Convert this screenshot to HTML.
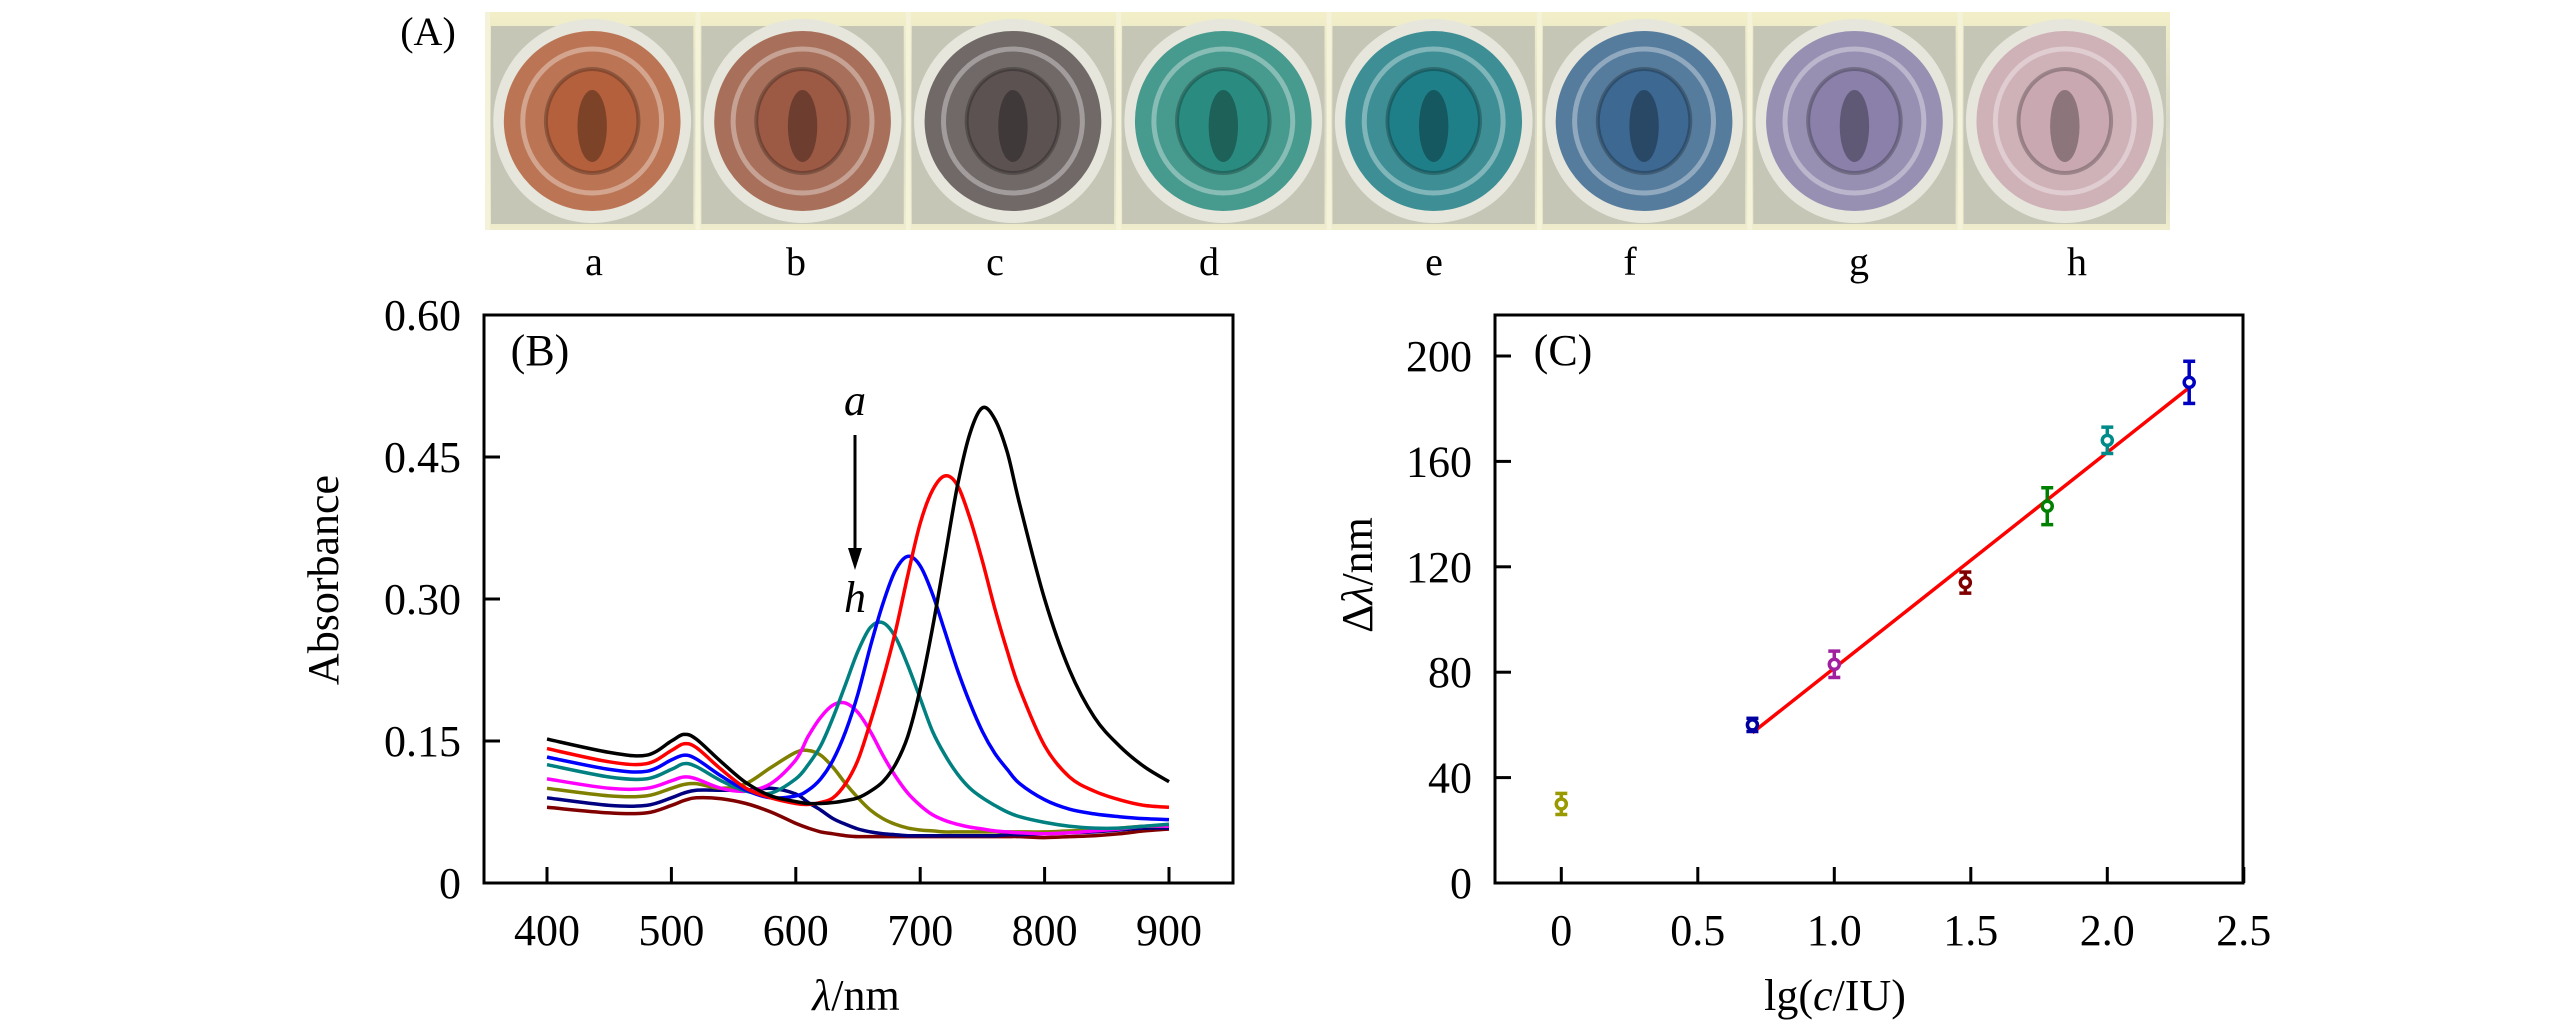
<!DOCTYPE html>
<html><head><meta charset="utf-8">
<style>
html,body{margin:0;padding:0;background:#fff;}
body{width:2567px;height:1024px;overflow:hidden;}
svg{display:block;}
text{font-family:"Liberation Serif",serif;fill:#000;}
</style></head>
<body>
<svg id="fig" width="2567" height="1024" viewBox="0 0 2567 1024">
<defs>
<linearGradient id="stripbg" x1="0" y1="0" x2="0" y2="1">
<stop offset="0" stop-color="#f2efc8"/><stop offset="0.5" stop-color="#d8d8c8"/><stop offset="1" stop-color="#eeeccc"/>
</linearGradient>
</defs>
<g id="panelA"></g>
<g id="panelB"></g>
<g id="panelC"></g>
</svg>
<script>
// ---------- Panel A data ----------
const wellLabels = ['a','b','c','d','e','f','g','h'];
const wellColors = ['#b4603c','#9c5a44','#5c5252','#2a8c80','#1f7f88','#3c6892','#8a80aa','#caa8b2'];

// ---------- Panel B data ----------
const wavelengths = [400,450,480,500,510,520,540,560,580,600,610,620,630,640,650,660,670,680,690,700,710,720,730,740,750,760,770,780,800,820,840,860,880,900];
const seriesA = [.152,.138,.135,.150,.157,.152,.128,.106,.092,.086,.084,.084,.085,.087,.090,.097,.107,.125,.155,.205,.270,.345,.420,.475,.502,.490,.455,.400,.300,.225,.175,.145,.123,.107];
const seriesB = [.142,.128,.126,.140,.147,.143,.120,.100,.090,.084,.083,.085,.090,.105,.130,.170,.215,.265,.325,.380,.415,.430,.420,.385,.340,.290,.245,.205,.145,.112,.097,.088,.082,.080];
const seriesC = [.133,.120,.118,.130,.135,.131,.113,.098,.090,.092,.098,.110,.130,.160,.200,.250,.295,.330,.345,.335,.305,.265,.225,.190,.160,.137,.120,.105,.088,.078,.073,.070,.068,.067];
const seriesD = [.125,.112,.110,.120,.126,.123,.108,.097,.095,.110,.125,.145,.175,.210,.245,.270,.275,.260,.230,.195,.160,.135,.115,.100,.090,.082,.075,.070,.064,.060,.058,.058,.060,.062];
const seriesE = [.110,.100,.100,.108,.112,.110,.100,.097,.105,.130,.155,.175,.188,.190,.180,.160,.135,.113,.095,.082,.072,.066,.062,.059,.057,.055,.054,.053,.052,.053,.055,.057,.060,.060];
const seriesF = [.100,.092,.092,.100,.104,.105,.100,.105,.122,.138,.140,.135,.122,.105,.090,.077,.068,.062,.058,.056,.055,.054,.054,.054,.054,.054,.054,.054,.054,.055,.056,.058,.060,.060];
const seriesG = [.090,.082,.082,.090,.095,.098,.098,.098,.100,.094,.085,.077,.068,.062,.057,.054,.052,.051,.050,.050,.050,.050,.050,.050,.050,.050,.051,.051,.052,.053,.054,.056,.058,.058];
const seriesH = [.080,.074,.074,.082,.087,.090,.089,.084,.075,.063,.058,.054,.052,.050,.049,.049,.049,.049,.049,.049,.049,.049,.049,.049,.049,.049,.049,.049,.048,.049,.050,.052,.055,.057];
const spectraColors = ['#000000','#ff0000','#0000ff','#008080','#ff00ff','#808000','#000080','#800000'];
const bXTicks = [400,500,600,700,800,900];
const bYTicks = [0,0.15,0.30,0.45,0.60];
const bYTickLabels = ['0','0.15','0.30','0.45','0.60'];

// ---------- Panel C data ----------
const lgConc = [0,0.7,1.0,1.48,1.78,2.0,2.3];
const shiftValues = [30,60,83,114,143,168,190];
const shiftErrors = [4,2.5,5,4,7,5,8];
const pointColors = ['#999900','#0000a0','#a020a0','#800000','#008000','#008b8b','#0000c0'];
const fitX = [0.7,2.3];
const fitY = [57,188];
const cXTicks = [0,0.5,1.0,1.5,2.0,2.5];
const cXTickLabels = ['0','0.5','1.0','1.5','2.0','2.5'];
const cYTicks = [0,40,80,120,160,200];

const NS='http://www.w3.org/2000/svg';
function mk(tag, attrs, parent){const e=document.createElementNS(NS,tag);for(const k in attrs)e.setAttribute(k,attrs[k]);parent.appendChild(e);return e;}

// ===== Panel A =====
const A=document.getElementById('panelA');
let t=mk('text',{x:428,y:45,'font-size':40,'text-anchor':'middle'},A);t.textContent='(A)';


const stripL=487, stripR=2170, stripT=12, stripB=230;
let r=mk('rect',{x:stripL,y:stripT,width:stripR-stripL,height:stripB-stripT,fill:'url(#stripbg)'},A);


const cellW=(stripR-stripL)/wellLabels.length;
const labelXs=[594,796,995,1209,1434,1630,1859,2077];
wellLabels.forEach((lab,i)=>{
  const g=mk('g',{},A);
  
  
  const x0=stripL+i*cellW, cx=x0+cellW/2, cy=121;
  mk('rect',{x:x0+4,y:stripT+14,width:cellW-8,height:stripB-stripT-20,fill:'#c6c6b6'},g);
  mk('ellipse',{cx:cx,cy:cy,rx:cellW*0.47,ry:102,fill:'#e6e6dc'},g);
  mk('ellipse',{cx:cx,cy:cy,rx:cellW*0.42,ry:90,fill:wellColors[i],opacity:0.85},g);
  mk('ellipse',{cx:cx,cy:cy,rx:cellW*0.33,ry:72,fill:'none',stroke:'#ffffff','stroke-opacity':0.35,'stroke-width':5},g);
  mk('ellipse',{cx:cx,cy:cy,rx:cellW*0.22,ry:52,fill:wellColors[i],stroke:'#000','stroke-opacity':0.25,'stroke-width':4},g);
  mk('ellipse',{cx:cx,cy:cy+5,rx:cellW*0.07,ry:36,fill:'#000',opacity:0.3},g);
  mk('rect',{x:x0-2,y:stripT,width:5,height:stripB-stripT,fill:'#f4f2d8'},g);
  const lt=mk('text',{x:labelXs[i],y:275,'font-size':40,'text-anchor':'middle'},A);
  lt.textContent=lab;
  
  
});

// ===== Panel B =====
const B=document.getElementById('panelB');
const bL=484,bR=1233,bT=315,bBot=883;
const bx=v=>547+(v-400)/500*622;
const by=v=>bBot-(v/0.6)*(bBot-bT);
let f=mk('rect',{x:bL,y:bT,width:bR-bL,height:bBot-bT,fill:'none',stroke:'#000','stroke-width':3},B);


bXTicks.forEach(v=>{
  let l=mk('line',{x1:bx(v),x2:bx(v),y1:bBot,y2:bBot-16,stroke:'#000','stroke-width':3},B);
  
  
  let tt=mk('text',{x:bx(v),y:945,'font-size':44,'text-anchor':'middle'},B);tt.textContent=v;
  
  
});
bYTicks.forEach((v,i)=>{
  if(i>0&&i<bYTicks.length-1){let l=mk('line',{x1:bL,x2:bL+16,y1:by(v),y2:by(v),stroke:'#000','stroke-width':3},B);
  
  }
  let tt=mk('text',{x:461,y:by(v)+15,'font-size':44,'text-anchor':'end'},B);tt.textContent=bYTickLabels[i];
  
  
});
t=mk('text',{x:0,y:0,'font-size':44,'text-anchor':'middle',transform:'translate(338,580) rotate(-90)'},B);t.textContent='Absorbance';


t=mk('text',{x:856,y:1010,'font-size':44,'text-anchor':'middle'},B);
t.innerHTML='<tspan font-style="italic">λ</tspan>/nm';


t=mk('text',{x:540,y:365,'font-size':44,'text-anchor':'middle'},B);t.textContent='(B)';


function smoothPath(xs,ys){
  let d='M'+xs[0].toFixed(1)+','+ys[0].toFixed(1);
  for(let i=0;i<xs.length-1;i++){
    const x0=xs[Math.max(i-1,0)],y0=ys[Math.max(i-1,0)],x1=xs[i],y1=ys[i],x2=xs[i+1],y2=ys[i+1],x3=xs[Math.min(i+2,xs.length-1)],y3=ys[Math.min(i+2,xs.length-1)];
    d+=' C'+(x1+(x2-x0)/6).toFixed(1)+','+(y1+(y2-y0)/6).toFixed(1)+' '+(x2-(x3-x1)/6).toFixed(1)+','+(y2-(y3-y1)/6).toFixed(1)+' '+x2.toFixed(1)+','+y2.toFixed(1);
  }
  return d;
}
const allSeries=[seriesA,seriesB,seriesC,seriesD,seriesE,seriesF,seriesG,seriesH];
const curveNames=['a','b','c','d','e','f','g','h'];
allSeries.slice().reverse().forEach((s,ri)=>{
  const i=allSeries.length-1-ri;
  const p=mk('path',{d:smoothPath(wavelengths.map(bx),s.map(by)),fill:'none',stroke:spectraColors[i],'stroke-width':3.5,'stroke-linejoin':'round'},B);
  
  
});
t=mk('text',{x:855,y:415,'font-size':44,'text-anchor':'middle','font-style':'italic'},B);t.textContent='a';


let ar=mk('line',{x1:855,y1:435,x2:855,y2:553,stroke:'#000','stroke-width':3},B);


let ah=mk('polygon',{points:'848,548 862,548 855,570',fill:'#000'},B);


t=mk('text',{x:855,y:612,'font-size':44,'text-anchor':'middle','font-style':'italic'},B);t.textContent='h';



// ===== Panel C =====
const C=document.getElementById('panelC');
const cL=1495,cR=2243,cT=315,cBot=883;
const cx=v=>1561.3+v*273;
const cy=v=>cBot-v/200*527;
f=mk('rect',{x:cL,y:cT,width:cR-cL,height:cBot-cT,fill:'none',stroke:'#000','stroke-width':3},C);


cXTicks.forEach((v,i)=>{
  let l=mk('line',{x1:cx(v),x2:cx(v),y1:cBot,y2:cBot-16,stroke:'#000','stroke-width':3},C);
  
  
  let tt=mk('text',{x:cx(v),y:945,'font-size':44,'text-anchor':'middle'},C);tt.textContent=cXTickLabels[i];
  
  
});
cYTicks.forEach(v=>{
  let l=mk('line',{x1:cL,x2:cL+16,y1:cy(v),y2:cy(v),stroke:'#000','stroke-width':3},C);
  
  
  let tt=mk('text',{x:1472,y:cy(v)+15,'font-size':44,'text-anchor':'end'},C);tt.textContent=v;
  
  
});
t=mk('text',{x:0,y:0,'font-size':44,'text-anchor':'middle',transform:'translate(1372,575) rotate(-90)'},C);
t.innerHTML='Δ<tspan font-style="italic">λ</tspan>/nm';


t=mk('text',{x:1835,y:1010,'font-size':44,'text-anchor':'middle'},C);
t.innerHTML='lg(<tspan font-style="italic">c</tspan>/IU)';


t=mk('text',{x:1563,y:365,'font-size':44,'text-anchor':'middle'},C);t.textContent='(C)';


let fl=mk('line',{x1:cx(fitX[0]),y1:cy(fitY[0]),x2:cx(fitX[1]),y2:cy(fitY[1]),stroke:'#ff0000','stroke-width':3.5},C);


lgConc.forEach((xv,i)=>{
  const g=mk('g',{stroke:pointColors[i],'stroke-width':3.5,fill:'none'},C);
  
  
  const X=cx(xv),Y=cy(shiftValues[i]),e1=cy(shiftValues[i]+shiftErrors[i]),e2=cy(shiftValues[i]-shiftErrors[i]);
  mk('line',{x1:X,x2:X,y1:e1,y2:e2},g);
  mk('line',{x1:X-6,x2:X+6,y1:e1,y2:e1},g);
  mk('line',{x1:X-6,x2:X+6,y1:e2,y2:e2},g);
  mk('circle',{cx:X,cy:Y,r:5,fill:'#fff'},g);
});
</script>
</body></html>
